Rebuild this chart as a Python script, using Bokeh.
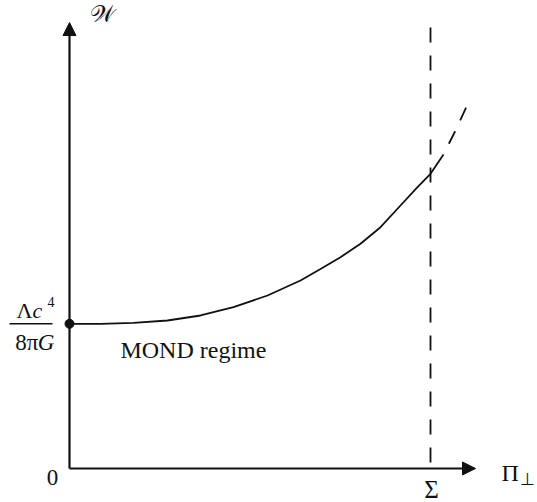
from bokeh.plotting import figure
from bokeh.models import Range1d, Arrow, NormalHead
from bokeh.core.properties import value
from bokeh.embed import file_html
from bokeh.resources import INLINE

# Data: x in units of Sigma, W in units of Lambda c^4 / (8 pi G)
pi_perp = [0.0, 0.0859, 0.1773, 0.2715, 0.3629, 0.4543, 0.5485, 0.6399, 0.6953,
           0.7507, 0.8061, 0.8615, 0.9169, 0.9640, 1.0, 1.0360]
w_vals = [1.0, 1.0, 1.007, 1.0228, 1.0574, 1.1147, 1.1956, 1.2993, 1.3787,
          1.4603, 1.5529, 1.6676, 1.8176, 1.9440, 2.0366, 2.1700]
pi_ext = [1.0360, 1.0693, 1.1025]
w_ext = [2.1700, 2.3359, 2.5155]
sigma = 1.0
w0 = 1.0
y_top = 3.048
labels_serif = ["MOND regime", "0", "Σ", "Π"]

p = figure(width=537, height=502, output_backend="svg", toolbar_location=None,
           x_range=Range1d(-0.19114, 1.29640), y_range=Range1d(-0.23497, 3.23428),
           min_border=0, min_border_left=0, min_border_right=0,
           min_border_top=0, min_border_bottom=0)
p.axis.visible = False
p.grid.visible = False
p.outline_line_color = None
p.background_fill_color = "white"
p.border_fill_color = "white"

ink = "#111111"
# axes with arrows
p.add_layout(Arrow(x_start=0, y_start=0, x_end=0, y_end=3.082, line_width=2.2,
                   line_color=ink,
                   end=NormalHead(size=13, fill_color=ink, line_color=ink)))
p.add_layout(Arrow(x_start=0, y_start=0, x_end=1.1247, y_end=0, line_width=2.2,
                   line_color=ink,
                   end=NormalHead(size=13, fill_color=ink, line_color=ink)))

# vertical dashed line at Sigma
p.line([sigma, sigma], [y_top, 0], line_color=ink, line_width=1.8, line_dash="15 13")

# curve
p.line(pi_perp, w_vals, line_color=ink, line_width=1.8)
p.line(pi_ext, w_ext, line_color=ink, line_width=1.8, line_dash="14 12",
       line_dash_offset=14)

# dot
p.scatter([0], [w0], size=9, color=ink)

serif = value("Liberation Serif")
dy = 0.055  # baseline correction (about 8px)
# labels
p.text(x=[0.141], y=[0.767 + dy], text=[labels_serif[0]], text_font=serif, text_font_size="24px",
       text_align="left", text_baseline="alphabetic", text_color=ink)
p.text(x=[-0.047], y=[-0.1175 + dy], text=[labels_serif[1]], text_font=serif, text_font_size="23px",
       text_align="center", text_baseline="alphabetic", text_color=ink)
p.text(x=[1.0028], y=[-0.2004 + dy], text=[labels_serif[2]], text_font=serif, text_font_size="25px",
       text_align="center", text_baseline="alphabetic", text_color=ink)
p.text(x=[1.1967], y=[-0.0829 + dy], text=[labels_serif[3]], text_font=serif, text_font_size="24px",
       text_align="left", text_baseline="alphabetic", text_color=ink)
p.text(x=[1.2493], y=[-0.1313 + dy], text=["⊥"], text_font=serif, text_font_size="17px",
       text_align="left", text_baseline="alphabetic", text_color=ink)
p.text(x=[0.058], y=[3.085 + dy], text=["𝒲"], text_font=serif, text_font_size="24px",
       text_align="left", text_baseline="alphabetic", text_color=ink)

# fraction label Lambda c^4 / 8 pi G
p.text(x=[-0.1025], y=[1.0366 + dy], text=["Λ"], text_font=serif, text_font_size="22px",
       text_align="right", text_baseline="alphabetic", text_color=ink)
p.text(x=[-0.1025], y=[1.0366 + dy], text=["c"], text_font=serif, text_font_size="22px",
       text_font_style="italic", text_align="left", text_baseline="alphabetic",
       text_color=ink)
p.text(x=[-0.0610], y=[1.095 + dy], text=["4"], text_font=serif, text_font_size="14px",
       text_align="left", text_baseline="alphabetic", text_color=ink)
p.segment(x0=[-0.1662], y0=[1.0], x1=[-0.0471], y1=[1.0], line_color=ink, line_width=1.4)
p.text(x=[-0.086], y=[0.8155 + dy], text=["8π"], text_font=serif, text_font_size="23px",
       text_align="right", text_baseline="alphabetic", text_color=ink)
p.text(x=[-0.088], y=[0.8155 + dy], text=["G"], text_font=serif, text_font_size="23px",
       text_font_style="italic", text_align="left", text_baseline="alphabetic",
       text_color=ink)

open("out.html", "w").write(file_html(p, INLINE))
